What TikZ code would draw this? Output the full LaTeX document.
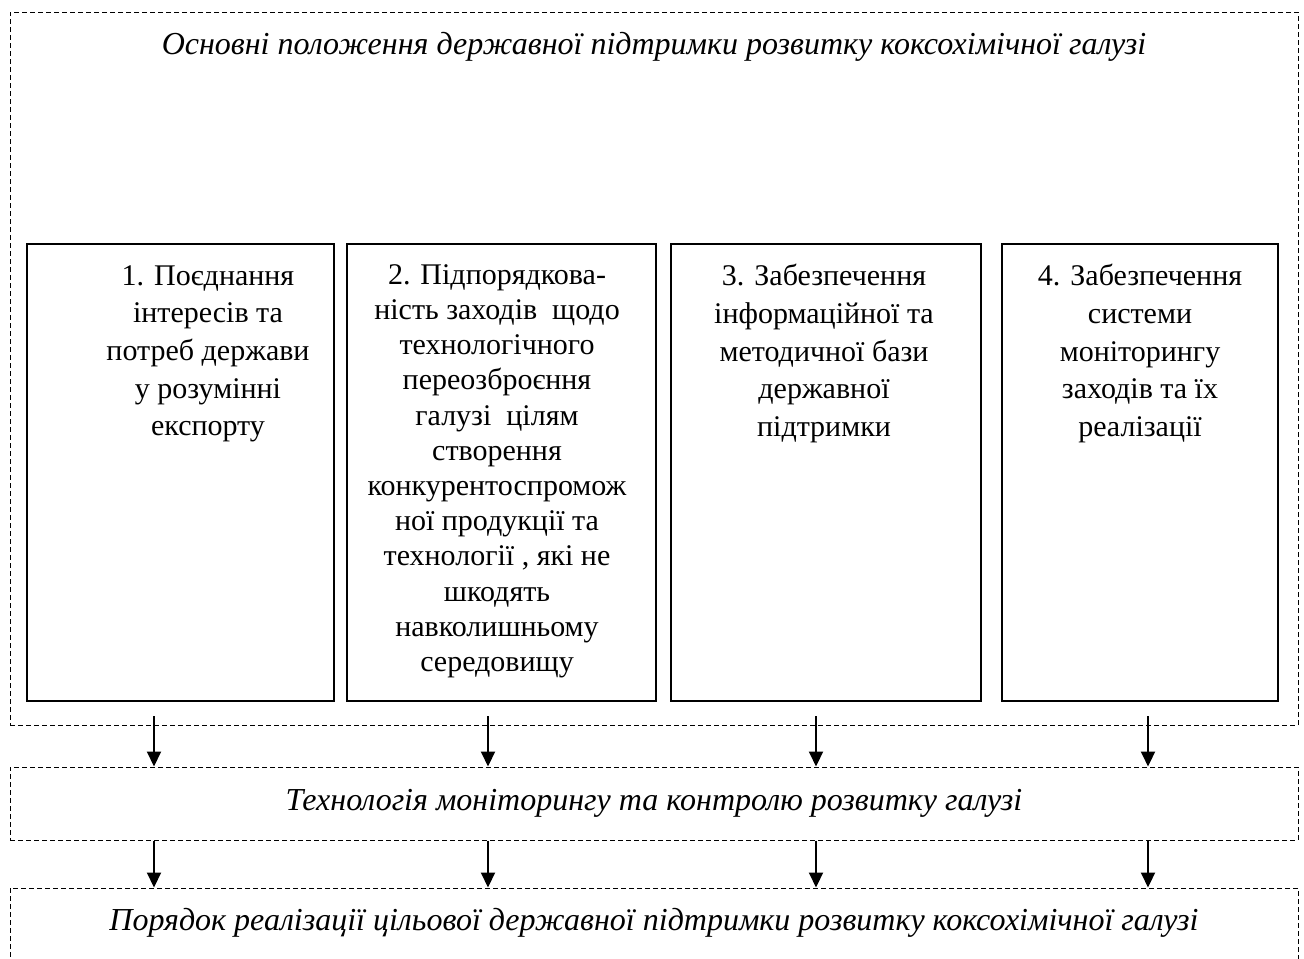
\documentclass[tikz,border=0pt]{standalone}
\usepackage{fontspec}
\setmainfont{Liberation Serif}
\usetikzlibrary{positioning,arrows.meta}

\begin{document}
\begin{tikzpicture}[
  x=0.5pt, y=-0.5pt,
  dashbox/.style={draw, dash pattern=on 2.5pt off 1.5pt, line width=0.5pt, inner sep=0pt},
  itembox/.style={draw, line width=0.6pt, minimum height=228.5pt, inner sep=0pt},
  itemtext/.style={anchor=north, align=center, inner sep=0pt, font=\fontsize{15}{18.8}\selectfont},
  densetext/.style={itemtext, font=\fontsize{15}{17.6}\selectfont},
  headtext/.style={font=\fontsize{16}{19}\selectfont\itshape, inner sep=0pt},
  flow/.style={line width=1pt, -{Triangle[width=7pt,length=7.5pt]}}
]
  \useasboundingbox (0,0) rectangle (1304,958);
  \clip (0,0) rectangle (1304,958);

  % outer frame and the three italic headings
  \node[dashbox, minimum width=644pt, minimum height=356.5pt] (basis) at (654,368.5) {};
  \node[headtext] (basishead) at (654,47) {Основні положення державної підтримки розвитку коксохімічної галузі};

  \node[dashbox, minimum width=644pt, minimum height=36.5pt] (monitor) at (654,803.5) {};
  \node[headtext] (monitorhead) at (654,803) {Технологія моніторингу та контролю розвитку галузі};

  \node[dashbox, minimum width=644pt, minimum height=60pt] (order) at (654,948) {};
  \node[headtext] (orderhead) at (654,923) {Порядок реалізації цільової державної підтримки розвитку коксохімічної галузі};

  % four principles
  \node[itembox, minimum width=153.5pt] (item1) at (180.5,472.5) {};
  \node[itembox, minimum width=154.5pt] (item2) at (501.5,472.5) {};
  \node[itembox, minimum width=155pt] (item3) at (826,472.5) {};
  \node[itembox, minimum width=138pt] (item4) at (1140,472.5) {};

  \node[itemtext] (text1) at (208,265) {1. Поєднання\\інтересів та\\потреб держави\\у розумінні\\експорту};
  \node[densetext] (text2) at (497,264) {2. Підпорядкова-\\ність заходів\ \ щодо\\технологічного\\переозброєння\\галузі\ \ цілям\\створення\\конкурентоспромож\\ної продукції та\\технології , які не\\шкодять\\навколишньому\\середовищу};
  \node[itemtext] (text3) at (824,264) {3. Забезпечення\\інформаційної та\\методичної бази\\державної\\підтримки};
  \node[itemtext] (text4) at (1140,264) {4. Забезпечення\\системи\\моніторингу\\заходів та їх\\реалізації};

  % arrows between the levels
  \foreach \x [count=\i] in {154,488,816,1148} {
    \coordinate (src\i) at (\x,716);
    \draw[flow] (src\i) -- (src\i |- monitor.north);
    \draw[flow] (src\i |- monitor.south) -- (src\i |- order.north);
  }
\end{tikzpicture}
\end{document}
